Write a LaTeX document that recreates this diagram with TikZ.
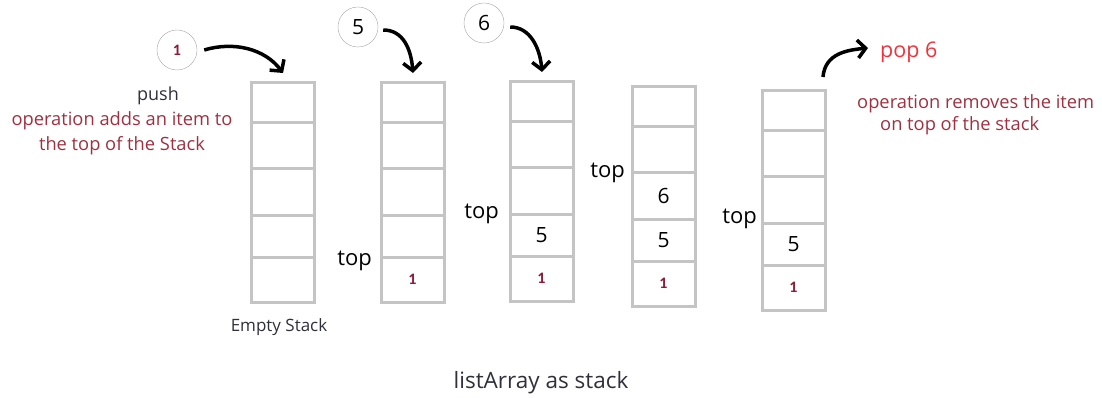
\documentclass[tikz,border=0pt]{standalone}
\usepackage{fontspec}
\setmainfont{Open Sans}
\newfontfamily\itemfont{Carlito}
\usetikzlibrary{arrows.meta,positioning}
\definecolor{cellgray}{HTML}{C4C4C4}
\definecolor{opred}{HTML}{A03040}
\definecolor{popred}{HTML}{F0323C}
\definecolor{onered}{HTML}{8C1A38}
\definecolor{darktext}{HTML}{30303C}

\begin{document}
\begin{tikzpicture}[x=1pt,y=-1pt,
  cell/.style={draw=cellgray,line width=3pt,minimum width=63pt,inner sep=0pt,outer sep=0pt},
  val/.style={font=\fontsize{21}{21}\selectfont},
  one/.style={text=onered,font=\itemfont\bfseries\fontsize{16}{16}\selectfont},
  toplbl/.style={font=\fontsize{22}{22}\selectfont,anchor=east,inner sep=0pt},
  item/.style={draw=gray!70,circle,minimum size=40pt,inner sep=0pt},
  curl/.style={line width=3.5pt,-{Straight Barb[length=8pt,width=18pt]}},
  note/.style={text=opred,font=\fontsize{18.3}{25}\selectfont,inner sep=0pt}]

\useasboundingbox (0,0) rectangle (1102,398);

% the five stacks
\foreach \n/\x/\y in {1/251/83,2/381/83,3/510/82,4/632/87,5/762/91}
{
\node[cell,minimum height=40pt,anchor=north west] (S\n c1) at (\x,\y){};
\node[cell,minimum height=46pt,anchor=north] (S\n c2) at (S\n c1.south){};
\node[cell,minimum height=46pt,anchor=north] (S\n c3) at (S\n c2.south){};
\node[cell,minimum height=42pt,anchor=north] (S\n c4) at (S\n c3.south){};
\node[cell,minimum height=45pt,anchor=north] (S\n c5) at (S\n c4.south){};
}

% items in the stacks
\node[one] (S2v5) at (S2c5){1};
\node[val] (S3v4) at (S3c4){5};
\node[one] (S3v5) at (S3c5){1};
\node[val] (S4v3) at (S4c3){6};
\node[val] (S4v4) at (S4c4){5};
\node[one] (S4v5) at (S4c5){1};
\node[val] (S5v4) at (S5c4){5};
\node[one] (S5v5) at (S5c5){1};

\node[toplbl] (T2) at ([shift={(-9,4)}]S2c5.north west){top};
\node[toplbl] (T3) at ([xshift=-11pt]S3c4.north west){top};
\node[toplbl] (T4) at ([xshift=-7pt]S4c3.north west){top};
\node[toplbl] (T5) at ([shift={(-5,-4)}]S5c4.north west){top};

% pushed items
\node[item,one] (in1) at (177,50){1};
\node[item,val] (in5) at (358,27){5};
\node[item,val] (in6) at (484,23){6};

\foreach \n in {1,2,3}
  \coordinate (p\n) at ([shift={(-31,-10)}]S\n c1.north east);

\draw[curl] ([xshift=7pt]in1.east) .. controls +(30,-9) and +(-18,-24) .. (p1);
\draw[curl] ([shift={(5,3)}]in5.east) .. controls +(20,0) and +(-2,-24) .. (p2);
\draw[curl] ([shift={(6,4)}]in6.east) .. controls +(20,0) and +(-2,-24) .. (p3);

\node[font=\fontsize{18}{18}\selectfont,text=darktext] (push) at (158,96){push};
\node[note,align=center] (addop) at (122,133){operation adds an item to\\the top of the Stack};
\node[font=\fontsize{17}{17}\selectfont,text=darktext] (empty) at (279,327){Empty Stack};

% pop
\node[font=\fontsize{21.5}{21.5}\selectfont,text=popred,anchor=west,inner sep=0pt] (pop) at (880,52){pop 6};
\coordinate (q5) at ([shift={(-2,-14)}]S5c1.north east);
\draw[curl] (q5) .. controls +(2,-24) and +(-20,2) .. ([shift={(-12,-4)}]pop.west);
\node[note,anchor=west] (rm1) at (857,104){operation removes the item};
\node[note,anchor=west] (rm2) at (880,126){on top of the stack};

\node[font=\fontsize{22.5}{22.5}\selectfont,text=darktext] (cap) at (541,383){listArray as stack};

\end{tikzpicture}
\end{document}
